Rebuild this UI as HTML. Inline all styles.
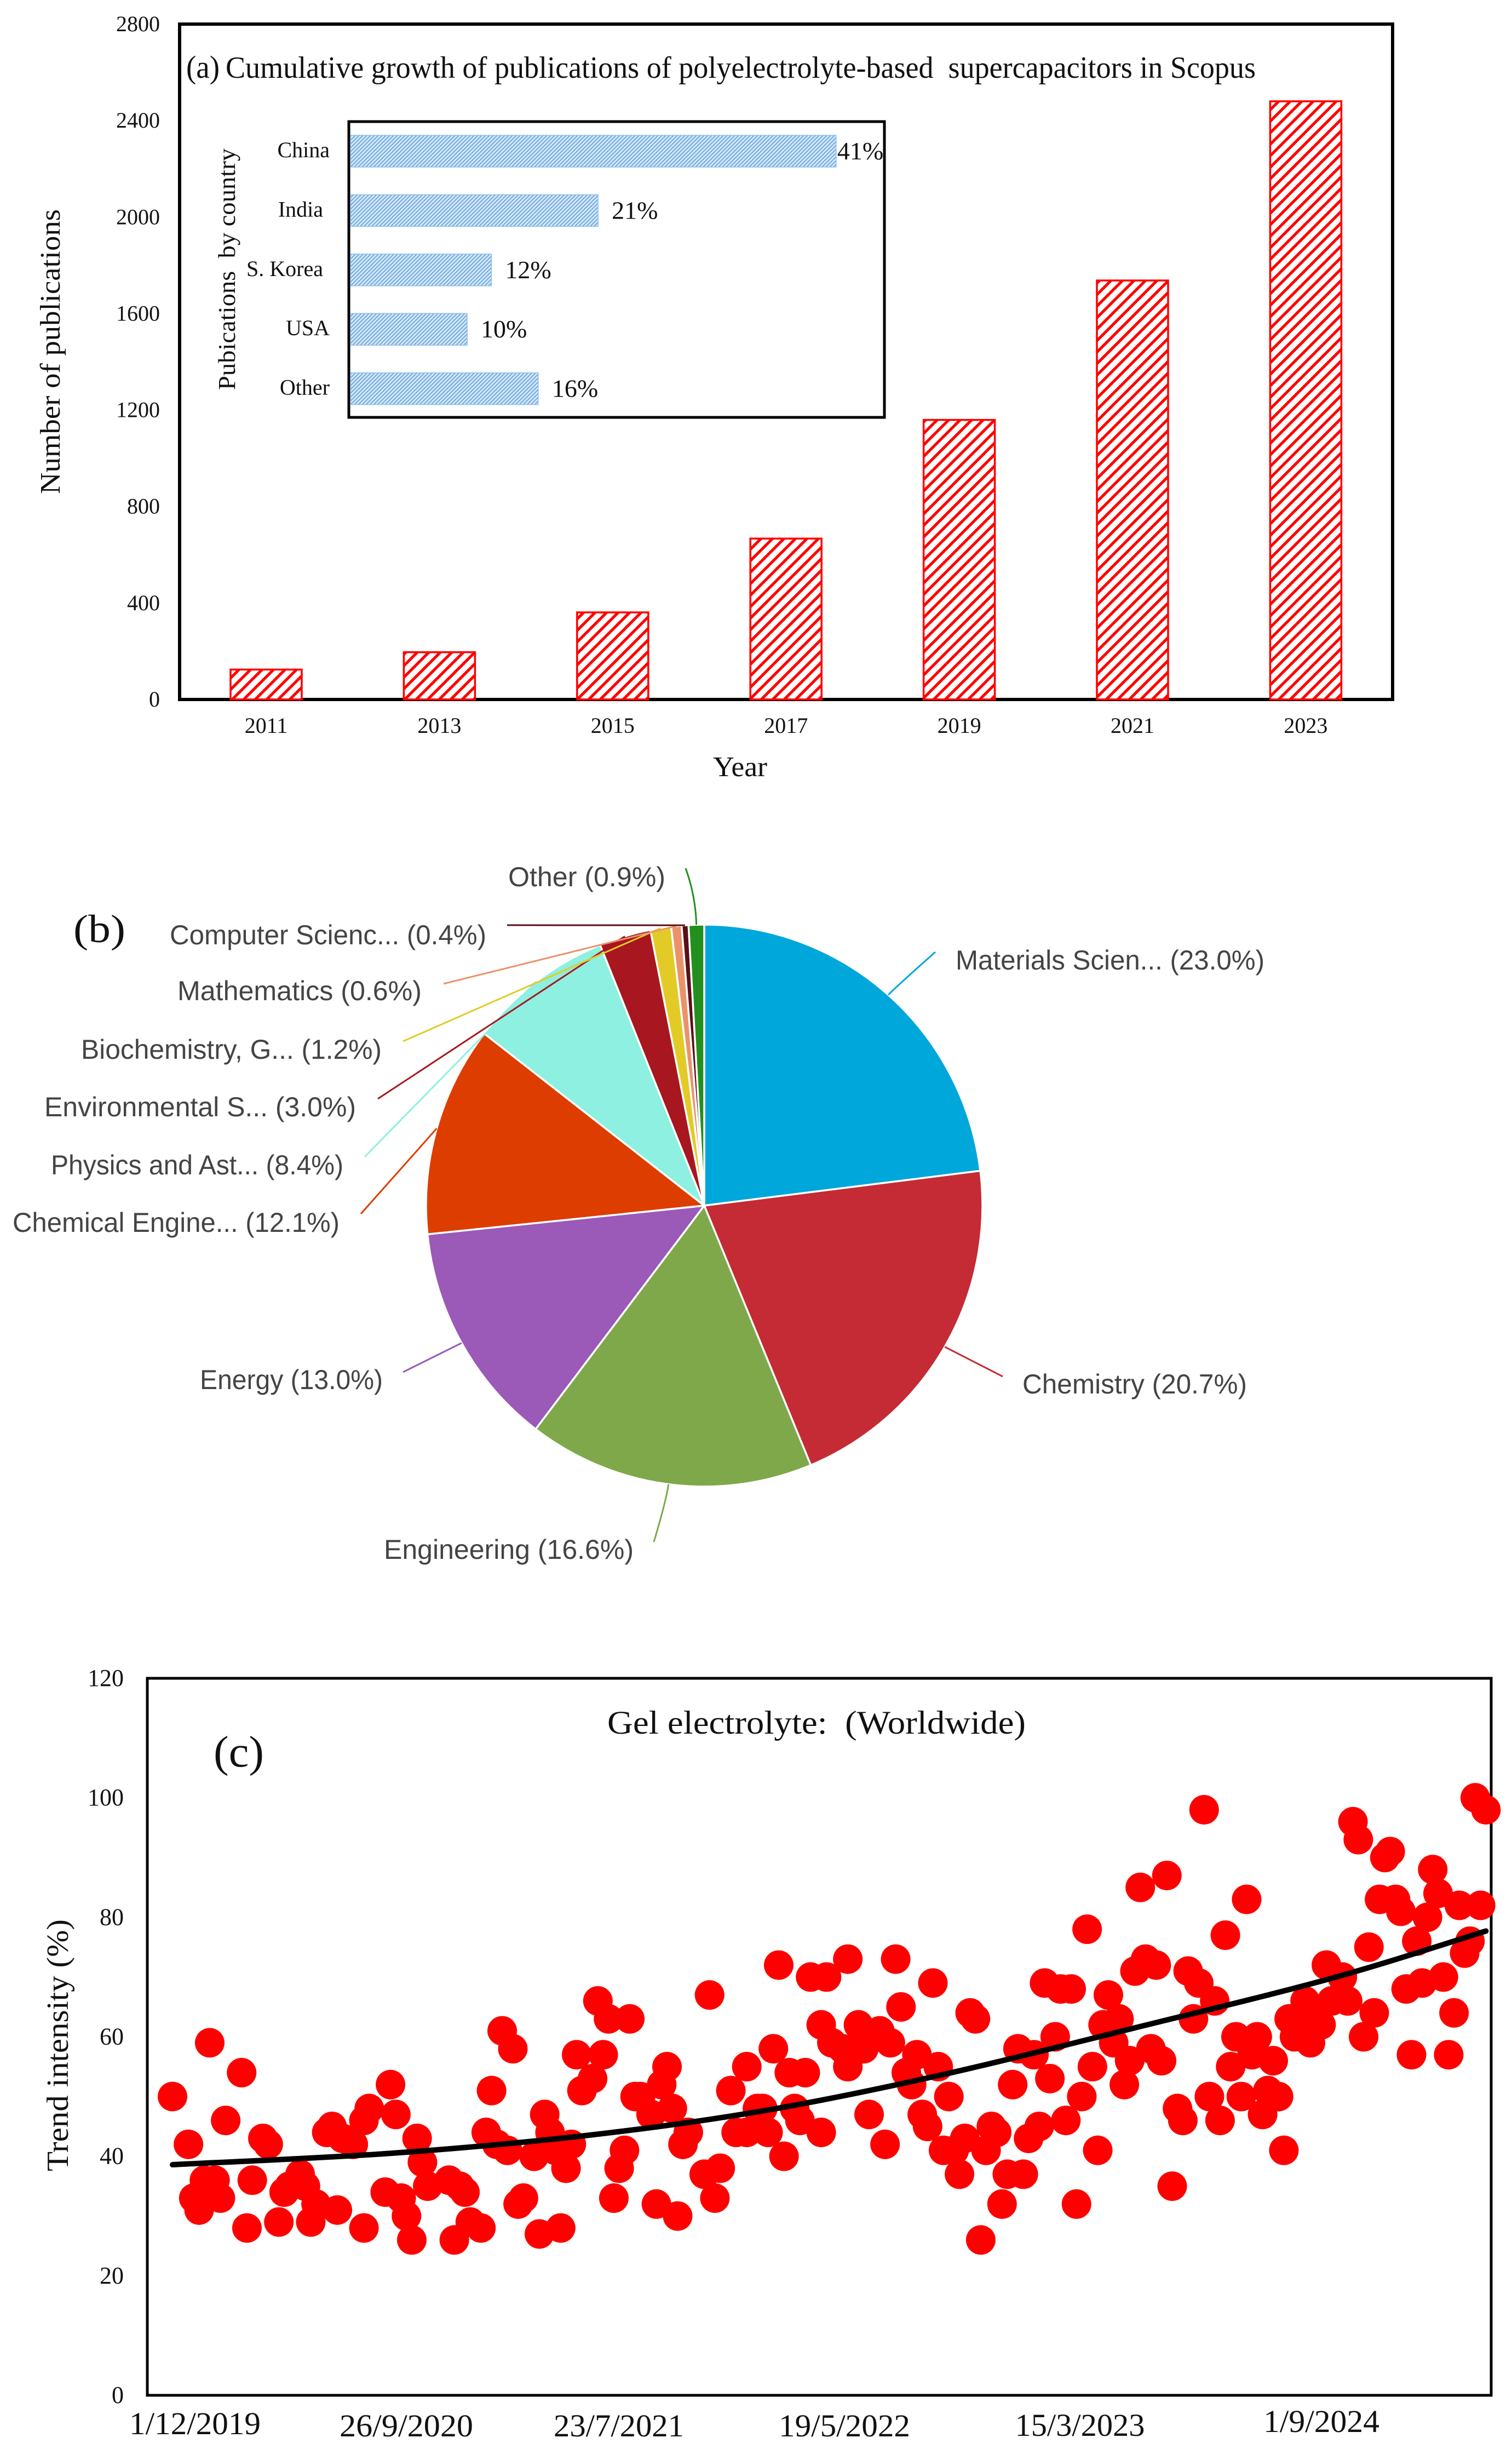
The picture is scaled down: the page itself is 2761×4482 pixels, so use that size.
<!DOCTYPE html>
<html lang="en">
<head>
<meta charset="utf-8">
<title>Polyelectrolyte supercapacitor publication charts</title>
<style>
html,body{margin:0;padding:0;background:#fff;}
svg{display:block;}
text{font-family:"Liberation Serif",serif;fill:#111;white-space:pre;}
.sans{font-family:"Liberation Sans",sans-serif;fill:#444;}
</style>
</head>
<body>
<svg id="root" xmlns="http://www.w3.org/2000/svg" width="2761" height="4482" viewBox="0 0 2761 4482">
  <defs>
    <pattern id="redHatch" patternUnits="userSpaceOnUse" width="21" height="21">
      <rect width="21" height="21" fill="#fff"/>
      <path d="M-5,5 L5,-5 M0,21 L21,0 M16,26 L26,16" stroke="#ff0000" stroke-width="5.2" fill="none"/>
    </pattern>
    <pattern id="blueHatch" patternUnits="userSpaceOnUse" width="7" height="7">
      <rect width="7" height="7" fill="#d8e9f7"/>
      <path d="M-2,2 L2,-2 M0,7 L7,0 M5,9 L9,5" stroke="#75aee2" stroke-width="2.2" fill="none"/>
    </pattern>
  </defs>

  <g id="panelA">
    <rect x="328" y="44" width="2215" height="1233" fill="#fff" stroke="#000" stroke-width="6"/>
    <text x="340" y="142" font-size="58" textLength="61" lengthAdjust="spacingAndGlyphs">(a)</text>
    <text x="412" y="142" font-size="56" textLength="1881" lengthAdjust="spacingAndGlyphs">Cumulative growth of publications of polyelectrolyte-based  supercapacitors in Scopus</text>
    <text transform="translate(109,902) rotate(-90)" font-size="52" textLength="520" lengthAdjust="spacingAndGlyphs">Number of publications</text>
    <text x="1302" y="1417" font-size="52" textLength="99" lengthAdjust="spacingAndGlyphs">Year</text>
    <g id="barsA"></g>
    <g id="ticksA"></g>
    <rect x="637" y="222" width="978" height="540" fill="#fff" stroke="#000" stroke-width="5"/>
    <text transform="translate(429,712) rotate(-90)" font-size="44" textLength="441" lengthAdjust="spacingAndGlyphs">Pubications  by country</text>
    <g id="inset"></g>
  </g>

  <g id="panelB">
    <text x="134" y="1720" font-size="72" textLength="95" lengthAdjust="spacingAndGlyphs">(b)</text>
    <g id="pie"></g>
    <g id="pieLabels"></g>
  </g>

  <g id="panelC">
    <rect x="269" y="3064" width="2454" height="1309" fill="#fff" stroke="#000" stroke-width="5"/>
    <text x="1109" y="3165" font-size="60" textLength="764" lengthAdjust="spacingAndGlyphs">Gel electrolyte:  (Worldwide)</text>
    <text x="390" y="3225" font-size="80" textLength="92" lengthAdjust="spacingAndGlyphs">(c)</text>
    <text transform="translate(124,3964) rotate(-90)" font-size="56" textLength="460" lengthAdjust="spacingAndGlyphs">Trend intensity (%)</text>
    <g id="ticksC"></g>
    <g id="dots"></g>
    <path id="trendLine" fill="none" stroke="#000" stroke-width="10" stroke-linecap="round"/>
  </g>
</svg>

<script>
// Panel (a)
const barYears = [2011, 2013, 2015, 2017, 2019, 2021, 2023];
const barCounts = [124, 196, 361, 667, 1159, 1737, 2480];
const yTicksA = [0, 400, 800, 1200, 1600, 2000, 2400, 2800];

// Panel (a) inset
const countries = ['China', 'India', 'S. Korea', 'USA', 'Other'];
const countryShares = [41, 20.9, 11.9, 9.85, 15.85];
const countryShareLabels = ['41%', '21%', '12%', '10%', '16%'];

// Panel (b)
const subjects = ['Materials Scien...', 'Chemistry', 'Engineering', 'Energy', 'Chemical Engine...', 'Physics and Ast...', 'Environmental S...', 'Biochemistry, G...', 'Mathematics', 'Computer Scienc...', 'Other'];
const subjectShares = [23.0, 20.7, 16.6, 13.0, 12.1, 8.4, 3.0, 1.2, 0.6, 0.4, 0.9];

// Panel (c)
const weeks = [
0,3,4,5,6,6,7,7,8,9,10,13,14,15,17,18,20,21,22,24,25,26,27,29,30,31,32,34,36,36,37,40,41,42,43,44,45,46,47,48,
52,53,54,55,56,58,59,60,61,62,63,64,65,66,68,69,70,71,72,73,74,75,76,77,79,80,81,82,83,84,85,86,87,88,90,91,92,93,94,95,96,97,
100,101,102,103,105,106,108,108,110,111,112,113,114,115,116,117,118,119,120,122,122,123,124,126,127,127,129,130,131,131,133,134,135,136,137,138,139,140,141,142,143,144,145,146,147,148,149,
150,151,152,153,154,155,156,157,158,159,160,161,162,163,164,165,166,167,168,169,170,171,172,173,174,175,176,177,178,179,180,181,182,183,184,185,186,187,188,189,190,191,192,193,194,195,196,197,198,199,
200,201,202,203,204,205,206,207,208,209,210,211,212,213,214,215,216,217,218,220,221,222,223,224,225,226,227,228,229,230,231,232,233,234,235,236,237,238,239,240,241,242,243,244,245,246,247
];
const intensity = [
50,42,33,31,36,34,59,35,36,33,46,54,28,36,43,42,29,34,35,37,35,29,32,44,45,31,43,42,28,46,48,34,52,47,33,30,26,43,39,35,
36,26,35,34,29,28,44,51,42,61,41,58,32,33,40,27,47,44,41,28,38,42,57,51,53,66,57,63,33,38,41,63,50,50,47,32,52,55,48,30,42,44,
37,67,33,38,51,44,55,44,48,48,44,58,72,40,54,48,46,54,70,62,44,70,59,58,73,55,62,58,47,60,61,42,59,73,65,54,52,57,47,45,69,55,41,50,41,37,43,
64,63,26,41,45,44,32,37,52,58,37,43,57,45,69,53,60,68,46,68,32,50,78,55,41,62,67,59,63,52,56,71,85,73,58,72,56,87,35,48,46,71,63,69,98,50,66,46,77,55,
60,50,83,57,60,47,51,56,50,41,63,60,63,66,59,64,62,72,66,70,66,96,93,60,75,64,83,90,91,83,81,68,57,76,69,80,88,84,70,57,64,82,74,76,100,82,98
];
const trendWeeks = [0, 41, 78, 111, 144, 181, 218, 247];
const trendValues = [38.6, 40.5, 43.5, 47.6, 53.5, 61.5, 69.8, 77.7];
const yTicksC = [0, 20, 40, 60, 80, 100, 120];
const dateLabels = ['1/12/2019', '26/9/2020', '23/7/2021', '19/5/2022', '15/3/2023', '1/9/2024'];

// Axis functions
const NS = 'http://www.w3.org/2000/svg';
const xA = i => 486 + i * 316.4;
const yA = v => 1277 - v * (1233 / 2800);
const xInset = v => 640 + v * 21.63;
const yInset = i => 276 + i * 108.4;
const xC = w => 315 + w * 9.71;
const yC = v => 4373 - v * (1309 / 120);
const dateX = i => [356, 742, 1130, 1542, 1972, 2413][i];
const dateY = i => [4444, 4448, 4448, 4448, 4447, 4440][i];
const dateW = i => [240, 244, 238, 240, 237, 212][i];

function mk(parent, tag, attrs, txt) {
  const el = document.createElementNS(NS, tag);
  for (const k in attrs) el.setAttribute(k, attrs[k]);
  if (txt !== undefined) el.textContent = txt;
  document.getElementById(parent).appendChild(el);
  return el;
}

// Panel (a) bars, ticks
barYears.forEach((yr, i) => {
  const top = yA(barCounts[i]);
  const bar = mk('barsA', 'rect', {x: xA(i) - 65, y: top, width: 130, height: 1277 - top, fill: 'url(#redHatch)', stroke: '#ff0000', 'stroke-width': 3.5});
  
  
  const lab = mk('ticksA', 'text', {x: xA(i), y: 1338, 'font-size': 40, 'text-anchor': 'middle'}, String(yr));
  
  
});
yTicksA.forEach(t => {
  const lab = mk('ticksA', 'text', {x: 292, y: yA(t) + 13, 'font-size': 40, 'text-anchor': 'end'}, String(t));
  
  
});

// Inset bars
countries.forEach((c, i) => {
  const bar = mk('inset', 'rect', {x: 640, y: yInset(i) - 29, width: xInset(countryShares[i]) - 640, height: 58, fill: 'url(#blueHatch)', stroke: '#8fc0ea', 'stroke-width': 1.5});
  
  
  const nudge = (c === 'India' || c === 'S. Korea') ? -12 : 0;
  const name = mk('inset', 'text', {x: 602 + nudge, y: yInset(i) + 11, 'font-size': 40, 'text-anchor': 'end'}, c);
  
  
  const gap = i === 0 ? 2 : 25;
  const val = mk('inset', 'text', {x: xInset(countryShares[i]) + gap, y: yInset(i) + 15, 'font-size': 46}, countryShareLabels[i]);
  
  
});

// Pie
const pieCx = 1286, pieCy = 2201, pieRx = 508, pieRy = 513;
const sliceColors = ['#00a7db', '#c42b34', '#7fa84b', '#9b59b8', '#de3d00', '#8ef0e0', '#a8161f', '#e2cb27', '#ea936a', '#5a0f18', '#228f1f'];
const labelLayout = [
  {x: 1745, y: 1770, w: 564, ex: 1708, ey: 1738, bend: 0.12},
  {x: 1867, y: 2544, w: 410, ex: 1831, ey: 2513, bend: 0},
  {x: 701,  y: 2846, w: 456, ex: 1194, ey: 2815, bend: 0.25},
  {x: 365,  y: 2536, w: 334, ex: 736,  ey: 2505, bend: 0},
  {x: 23,   y: 2249, w: 597, ex: 659,  ey: 2216, bend: 0},
  {x: 93,   y: 2144, w: 534, ex: 666,  ey: 2112, bend: 0},
  {x: 81,   y: 2038, w: 569, ex: 690,  ey: 2006, bend: 0},
  {x: 148,  y: 1933, w: 549, ex: 736,  ey: 1901, bend: 0},
  {x: 324,  y: 1826, w: 446, ex: 810,  ey: 1796, bend: 0},
  {x: 310,  y: 1724, w: 578, ex: 926,  ey: 1689, bend: 0},
  {x: 928,  y: 1618, w: 287, ex: 1252, ey: 1585, bend: 0.5}
];
const shareTotal = subjectShares.reduce((a, b) => a + b, 0);
const shareAngle = s => (s / shareTotal) * Math.PI * 2;
const polar = (a, k) => [pieCx + pieRx * k * Math.sin(a), pieCy - pieRy * k * Math.cos(a)];
let cumShare = 0;
subjects.forEach((s, i) => {
  const a0 = shareAngle(cumShare);
  const a1 = shareAngle(cumShare + subjectShares[i]);
  const mid = (a0 + a1) / 2;
  cumShare += subjectShares[i];
  const p0 = polar(a0, 1), p1 = polar(a1, 1);
  const large = a1 - a0 > Math.PI ? 1 : 0;
  const slice = mk('pie', 'path', {
    d: 'M' + pieCx + ',' + pieCy + ' L' + p0[0] + ',' + p0[1] + ' A' + pieRx + ',' + pieRy + ' 0 ' + large + ' 1 ' + p1[0] + ',' + p1[1] + ' Z',
    fill: sliceColors[i], stroke: '#fff', 'stroke-width': 3.5
  });
  
  

  const l = labelLayout[i];
  const st = polar(mid, 1);
  const dist = Math.hypot(l.ex - st[0], l.ey - st[1]);
  const c = polar(mid, 1 + dist * l.bend / pieRx);
  const leader = mk('pieLabels', 'path', {
    d: 'M' + st[0] + ',' + st[1] + ' Q' + (l.bend ? c[0] : (st[0] + l.ex) / 2) + ',' + (l.bend ? c[1] : (st[1] + l.ey) / 2) + ' ' + l.ex + ',' + l.ey,
    fill: 'none', stroke: sliceColors[i], 'stroke-width': 3
  });
  
  
  const text = mk('pieLabels', 'text', {x: l.x, y: l.y, 'font-size': 50, textLength: l.w, lengthAdjust: 'spacingAndGlyphs', class: 'sans'}, s + ' (' + subjectShares[i].toFixed(1) + '%)');
  
  
});

// Panel (c)
yTicksC.forEach(t => {
  const lab = mk('ticksC', 'text', {x: 226, y: yC(t) + 14, 'font-size': 44, 'text-anchor': 'end'}, String(t));
  
  
});
dateLabels.forEach((d, i) => {
  const lab = mk('ticksC', 'text', {x: dateX(i) - dateW(i) / 2, y: dateY(i), 'font-size': 58, textLength: dateW(i), lengthAdjust: 'spacingAndGlyphs'}, d);
  
  
});
weeks.forEach((w, i) => {
  const dot = mk('dots', 'circle', {cx: xC(w), cy: yC(intensity[i]), r: 27, fill: '#ff0000'});
  
  
});

// Smooth trend curve through trend points (Catmull-Rom)
const tp = trendWeeks.map((w, i) => [xC(w), yC(trendValues[i])]);
let td = 'M' + tp[0][0] + ',' + tp[0][1];
for (let i = 0; i < tp.length - 1; i++) {
  const p0 = tp[Math.max(i - 1, 0)], p1 = tp[i], p2 = tp[i + 1], p3 = tp[Math.min(i + 2, tp.length - 1)];
  td += ' C' + (p1[0] + (p2[0] - p0[0]) / 6) + ',' + (p1[1] + (p2[1] - p0[1]) / 6) + ' ' +
        (p2[0] - (p3[0] - p1[0]) / 6) + ',' + (p2[1] - (p3[1] - p1[1]) / 6) + ' ' + p2[0] + ',' + p2[1];
}
document.getElementById('trendLine').setAttribute('d', td);
</script>
</body>
</html>
